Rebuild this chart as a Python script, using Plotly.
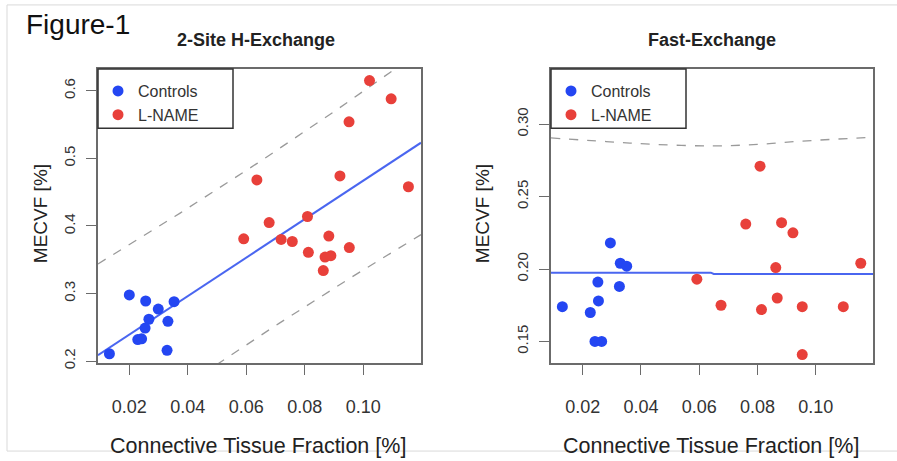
import numpy as np
import plotly.graph_objects as go

# ---------------- data ----------------
# Left panel: 2-Site H-Exchange
ctrl_x = [0.0200, 0.0256, 0.0299, 0.0353, 0.0267, 0.0254, 0.0332, 0.0229, 0.0242, 0.0329, 0.0132]
ctrl_y = [0.298, 0.289, 0.277, 0.288, 0.262, 0.249, 0.259, 0.232, 0.233, 0.216, 0.211]
lname_x = [0.0678, 0.0591, 0.0719, 0.0757, 0.0809, 0.0882, 0.0812, 0.0869, 0.0889, 0.0863,
           0.0952, 0.1021, 0.1095, 0.0951, 0.0636, 0.0920, 0.1154]
lname_y = [0.405, 0.381, 0.380, 0.377, 0.414, 0.385, 0.361, 0.354, 0.356, 0.334,
           0.368, 0.615, 0.588, 0.554, 0.468, 0.474, 0.458]

# Right panel: Fast-Exchange
fctrl_x = [0.0130, 0.0226, 0.0254, 0.0252, 0.0295, 0.0329, 0.0351, 0.0326, 0.0242, 0.0265]
fctrl_y = [0.174, 0.170, 0.178, 0.191, 0.218, 0.204, 0.202, 0.188, 0.150, 0.150]
flname_x = [0.0760, 0.0883, 0.0922, 0.1155, 0.0863, 0.0592, 0.0675, 0.0814, 0.0868,
            0.0954, 0.1095, 0.0954, 0.0809]
flname_y = [0.231, 0.232, 0.225, 0.204, 0.201, 0.193, 0.175, 0.172, 0.180,
            0.174, 0.174, 0.141, 0.271]
ffit_x = [0.0091, 0.0640, 0.0650, 0.1197]
ffit_y = [0.1975, 0.1975, 0.1966, 0.1966]
fupper_x = [0.0091, 0.0280, 0.0450, 0.0644, 0.0800, 0.0930, 0.1197]
fupper_y = [0.2905, 0.2880, 0.2860, 0.2850, 0.2860, 0.2880, 0.2910]

x_ticks = [0.02, 0.04, 0.06, 0.08, 0.10]
x_tick_text = ["0.02", "0.04", "0.06", "0.08", "0.10"]
left_y_ticks = [0.2, 0.3, 0.4, 0.5, 0.6]
left_y_text = ["0.2", "0.3", "0.4", "0.5", "0.6"]
right_y_ticks = [0.15, 0.20, 0.25, 0.30]
right_y_text = ["0.15", "0.20", "0.25", "0.30"]

# ---------------- linear fit + 95% prediction band (left) ----------------
ax_all = np.array(ctrl_x + lname_x)
ay_all = np.array(ctrl_y + lname_y)
n = len(ax_all)
b1, b0 = np.polyfit(ax_all, ay_all, 1)
resid = ay_all - (b0 + b1 * ax_all)
s = np.sqrt(np.sum(resid ** 2) / (n - 2))
xm = ax_all.mean()
sxx = np.sum((ax_all - xm) ** 2)
t975 = 2.0555  # t quantile, df = 26
xg = np.linspace(0.0093, 0.1197, 60)
fit = b0 + b1 * xg
hw = t975 * s * np.sqrt(1 + 1 / n + (xg - xm) ** 2 / sxx)

BLUE = "#2446f2"
RED = "#e8403a"
LINE_BLUE = "#4a66f0"
GRAY_DASH = "#9a9a9a"
FONT = "Liberation Sans, Arial, sans-serif"
W, H = 897, 461

fig = go.Figure()
# left
fig.add_trace(go.Scatter(x=xg, y=fit + hw, mode="lines", line=dict(color=GRAY_DASH, width=1.3, dash="dash"),
                         showlegend=False, hoverinfo="skip", xaxis="x", yaxis="y"))
fig.add_trace(go.Scatter(x=xg, y=fit - hw, mode="lines", line=dict(color=GRAY_DASH, width=1.3, dash="dash"),
                         showlegend=False, hoverinfo="skip", xaxis="x", yaxis="y"))
fig.add_trace(go.Scatter(x=xg, y=fit, mode="lines", line=dict(color=LINE_BLUE, width=2),
                         showlegend=False, xaxis="x", yaxis="y"))
fig.add_trace(go.Scatter(x=ctrl_x, y=ctrl_y, mode="markers", name="Controls",
                         marker=dict(color=BLUE, size=11), xaxis="x", yaxis="y", legend="legend"))
fig.add_trace(go.Scatter(x=lname_x, y=lname_y, mode="markers", name="L-NAME",
                         marker=dict(color=RED, size=11), xaxis="x", yaxis="y", legend="legend"))
# right
fig.add_trace(go.Scatter(x=fupper_x, y=fupper_y, mode="lines", line=dict(color=GRAY_DASH, width=1.3, dash="dash", shape="spline"),
                         showlegend=False, hoverinfo="skip", xaxis="x2", yaxis="y2"))
fig.add_trace(go.Scatter(x=ffit_x, y=ffit_y, mode="lines", line=dict(color=LINE_BLUE, width=2),
                         showlegend=False, xaxis="x2", yaxis="y2"))
fig.add_trace(go.Scatter(x=fctrl_x, y=fctrl_y, mode="markers", name="Controls",
                         marker=dict(color=BLUE, size=11), xaxis="x2", yaxis="y2", legend="legend2"))
fig.add_trace(go.Scatter(x=flname_x, y=flname_y, mode="markers", name="L-NAME",
                         marker=dict(color=RED, size=11), xaxis="x2", yaxis="y2", legend="legend2"))

def px_x(p):
    return p / W

def px_y(p):
    return 1 - p / H

axis_common = dict(showline=True, mirror=True, linecolor="#6b6b6b", linewidth=1.5, ticks="outside",
                   ticklen=10, tickcolor="#6b6b6b", tickwidth=1.3, showgrid=False, zeroline=False)

fig.update_layout(
    width=W, height=H, margin=dict(l=0, r=0, t=0, b=0),
    paper_bgcolor="white", plot_bgcolor="white",
    font=dict(family=FONT, color="#222"),
    xaxis=dict(domain=[px_x(98), px_x(421)], range=[0.0093, 0.1197], tickvals=x_ticks, ticktext=x_tick_text,
               tickfont=dict(size=18, color="#333"), anchor="y", ticklabelstandoff=16, **axis_common),
    yaxis=dict(domain=[px_y(368), px_y(70)], range=[0.197, 0.632], tickvals=left_y_ticks, ticktext=left_y_text,
               tickangle=-90, tickfont=dict(size=15, color="#333"), anchor="x", ticklabelstandoff=5, **axis_common),
    xaxis2=dict(domain=[px_x(551), px_x(873)], range=[0.0091, 0.1197], tickvals=x_ticks, ticktext=x_tick_text,
                tickfont=dict(size=18, color="#333"), anchor="y2", ticklabelstandoff=16, **axis_common),
    yaxis2=dict(domain=[px_y(368), px_y(70)], range=[0.135, 0.338], tickvals=right_y_ticks, ticktext=right_y_text,
                tickangle=-90, tickfont=dict(size=15, color="#333"), anchor="x2", ticklabelstandoff=5, **axis_common),
    legend=dict(x=px_x(98), y=px_y(75), xanchor="left", yanchor="top", bgcolor="rgba(0,0,0,0)",
                borderwidth=0, font=dict(size=16, color="#333")),
    legend2=dict(x=px_x(551), y=px_y(75), xanchor="left", yanchor="top", bgcolor="rgba(0,0,0,0)",
                 borderwidth=0, font=dict(size=16, color="#333")),
    shapes=[
        dict(type="rect", xref="paper", yref="paper", x0=px_x(7), x1=1.02, y0=px_y(457), y1=px_y(5),
             line=dict(color="#d9d9d9", width=1), layer="below"),
        dict(type="rect", xref="paper", yref="paper", x0=px_x(98), x1=px_x(233), y0=px_y(130), y1=px_y(70),
             line=dict(color="#333", width=1.5), fillcolor="rgba(0,0,0,0)"),
        dict(type="rect", xref="paper", yref="paper", x0=px_x(551), x1=px_x(686), y0=px_y(130), y1=px_y(70),
             line=dict(color="#333", width=1.5), fillcolor="rgba(0,0,0,0)"),
    ],
    annotations=[
        dict(text="Figure-1", xref="paper", yref="paper", x=px_x(24), y=px_y(25), xanchor="left", yanchor="middle",
             showarrow=False, font=dict(size=28, color="#111")),
        dict(text="<b>2-Site H-Exchange</b>", xref="paper", yref="paper", x=px_x(256), y=px_y(41),
             xanchor="center", yanchor="middle", showarrow=False, font=dict(size=18, color="#222")),
        dict(text="<b>Fast-Exchange</b>", xref="paper", yref="paper", x=px_x(712), y=px_y(41),
             xanchor="center", yanchor="middle", showarrow=False, font=dict(size=18, color="#222")),
        dict(text="MECVF [%]", xref="paper", yref="paper", x=px_x(40), y=px_y(217), textangle=-90,
             xanchor="center", yanchor="middle", showarrow=False, font=dict(size=19, color="#222")),
        dict(text="MECVF [%]", xref="paper", yref="paper", x=px_x(482), y=px_y(217), textangle=-90,
             xanchor="center", yanchor="middle", showarrow=False, font=dict(size=19, color="#222")),
        dict(text="Connective Tissue Fraction [%]", xref="paper", yref="paper", x=px_x(258), y=px_y(452),
             xanchor="center", yanchor="middle", showarrow=False, font=dict(size=21.5, color="#222")),
        dict(text="Connective Tissue Fraction [%]", xref="paper", yref="paper", x=px_x(711), y=px_y(452),
             xanchor="center", yanchor="middle", showarrow=False, font=dict(size=21.5, color="#222")),
    ],
)

fig.write_html("out.html", config={"displayModeBar": False},
               post_script="document.body.style.margin='0';document.body.style.overflow='hidden';")
